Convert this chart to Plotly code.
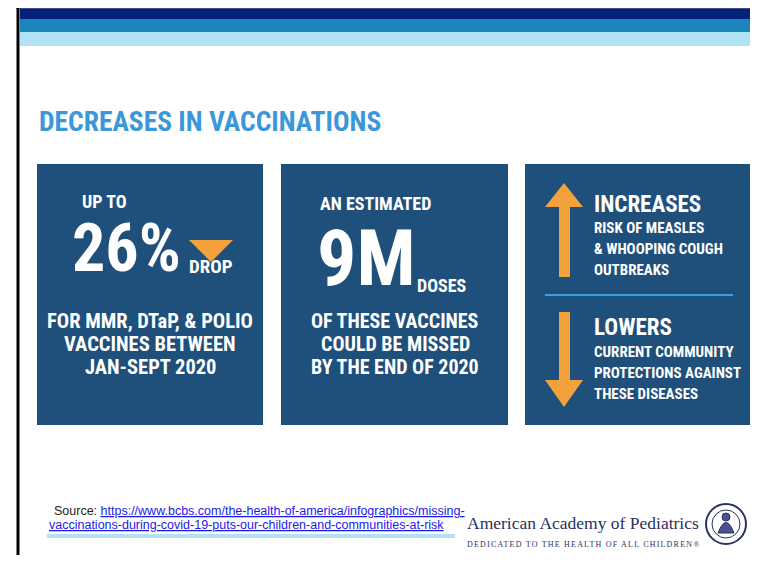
import plotly.graph_objects as go

# figures shown on the slide
title = 'DECREASES IN VACCINATIONS'
drop_pct = 26
missed_doses_m = 9
panel1_lines = ['FOR MMR, DTaP, & POLIO', 'VACCINES BETWEEN', 'JAN-SEPT 2020']
panel2_lines = ['OF THESE VACCINES', 'COULD BE MISSED', 'BY THE END OF 2020']
increase_lines = ['RISK OF MEASLES', '& WHOOPING COUGH', 'OUTBREAKS']
lower_lines = ['CURRENT COMMUNITY', 'PROTECTIONS AGAINST', 'THESE DISEASES']
source_lines = ['https://www.bcbs.com/the-health-of-america/infographics/missing-',
                'vaccinations-during-covid-19-puts-our-children-and-communities-at-risk']

W, H = 758, 563
OFF = 8  # page body margin, figure is shrunk so nothing scrolls
NAVY = '#1f4f7b'
ORANGE = '#f2a13c'
COND = ('Noto Sans ExtraCondensed, Noto Sans Condensed, Roboto Condensed, '
        'DejaVu Sans Condensed, sans-serif')
SERIF = 'Liberation Serif, Times New Roman, serif'

fig = go.Figure()
shapes = []
ann = []


def rect(x0, y0, x1, y1, color):
    shapes.append(dict(type='rect', x0=x0, y0=y0, x1=x1, y1=y1,
                       fillcolor=color, line=dict(width=0), layer='below'))


def text(x, y, s, size, color='white', anchor='center', family=COND, bold=True):
    ann.append(dict(x=x, y=y, text=f'<b>{s}</b>' if bold else s, showarrow=False,
                    xanchor=anchor, yanchor='middle',
                    font=dict(family=family, size=size, color=color)))


# header bands + slide border
rect(16, 0, W, 8.6, 'black')
rect(20, 8.6, W, 19, '#03217a')
rect(20, 19, W, 32, '#1a86bb')
rect(20, 32, W, 46, '#b0e3f5')
shapes.append(dict(type='line', x0=18, x1=18, y0=0, y1=H, line=dict(color='black', width=3)))

text(37, 121, title, 27.5, color='#3a98d8', anchor='left')

# panels
for x0, x1 in [(37, 263), (281, 508), (525, 753)]:
    rect(x0, 164, x1, 425, NAVY)

# panel 1
text(104, 201, 'UP TO', 18)
text(126, 248, f'{drop_pct}%', 66)
shapes.append(dict(type='path', path='M 189 240 L 233 240 L 211 262 Z',
                   fillcolor=ORANGE, line=dict(width=0)))
text(211, 266, 'DROP', 19)
for i, s in enumerate(panel1_lines):
    text(150, 321 + i * 23, s, 20.5)

# panel 2
text(375, 203, 'AN ESTIMATED', 18)
text(366, 258, f'{missed_doses_m}M', 78)
text(442, 285, 'DOSES', 18)
for i, s in enumerate(panel2_lines):
    text(395, 321 + i * 23, s, 20)

# panel 3 arrows
shapes.append(dict(type='path', path='M 564 183 L 583 207 L 570 207 L 570 277 L 559 277 L 559 207 L 545 207 Z',
                   fillcolor=ORANGE, line=dict(width=0)))
shapes.append(dict(type='path', path='M 564 407 L 583 380 L 570 380 L 570 312 L 559 312 L 559 380 L 545 380 Z',
                   fillcolor=ORANGE, line=dict(width=0)))
shapes.append(dict(type='line', x0=545, x1=733, y0=295, y1=295, line=dict(color='#3aa0e0', width=2)))
text(592, 204, 'INCREASES', 23, anchor='left')
for i, s in enumerate(increase_lines):
    text(592, 228 + i * 21, s, 15, anchor='left')
text(592, 327, 'LOWERS', 23, anchor='left')
for i, s in enumerate(lower_lines):
    text(592, 352 + i * 21, s, 15, anchor='left')

# source
link = '<span style="color:#1a1aee"><u>%s</u></span>'
ann.append(dict(x=52, y=511, xanchor='left', yanchor='middle', showarrow=False,
                text='Source: ' + link % source_lines[0],
                font=dict(family='Liberation Sans, Arial, sans-serif', size=12.5, color='#222')))
ann.append(dict(x=47, y=525, xanchor='left', yanchor='middle', showarrow=False,
                text=link % source_lines[1],
                font=dict(family='Liberation Sans, Arial, sans-serif', size=12.5, color='#222')))
rect(47, 534, 455, 538, '#b3e2f3')

# AAP logo text
text(465, 523, 'American Academy of Pediatrics', 17.5, color='#2b3160', anchor='left',
     family=SERIF, bold=False)
text(465, 544, '<span style="letter-spacing:1.2px">DEDICATED TO THE HEALTH OF ALL CHILDREN\u00ae</span>',
     8, color='#2b3160', anchor='left', family=SERIF, bold=False)
shapes.append(dict(type='circle', x0=706, x1=746, y0=504, y1=544, line=dict(color='#2b3160', width=2)))
shapes.append(dict(type='circle', x0=712, x1=740, y0=510, y1=538, line=dict(color='#2b3160', width=1)))
shapes.append(dict(type='path', path='M 718 533 Q 726 512 734 533 Z', fillcolor='#4a5090',
                   line=dict(color='#2b3160', width=1)))
shapes.append(dict(type='circle', x0=722, x1=730, y0=513, y1=521, fillcolor='#4a5090',
                   line=dict(color='#2b3160', width=1)))

# axis ranges shifted so data units equal page pixels
fig.update_layout(width=W - 2 * OFF, height=H - 2 * OFF, margin=dict(l=0, r=0, t=0, b=0),
                  paper_bgcolor='white', plot_bgcolor='white',
                  xaxis=dict(range=[OFF, W - OFF], visible=False, fixedrange=True),
                  yaxis=dict(range=[H - OFF, OFF], visible=False, fixedrange=True),
                  shapes=shapes, annotations=ann, showlegend=False)

fig.write_html('out.html')
